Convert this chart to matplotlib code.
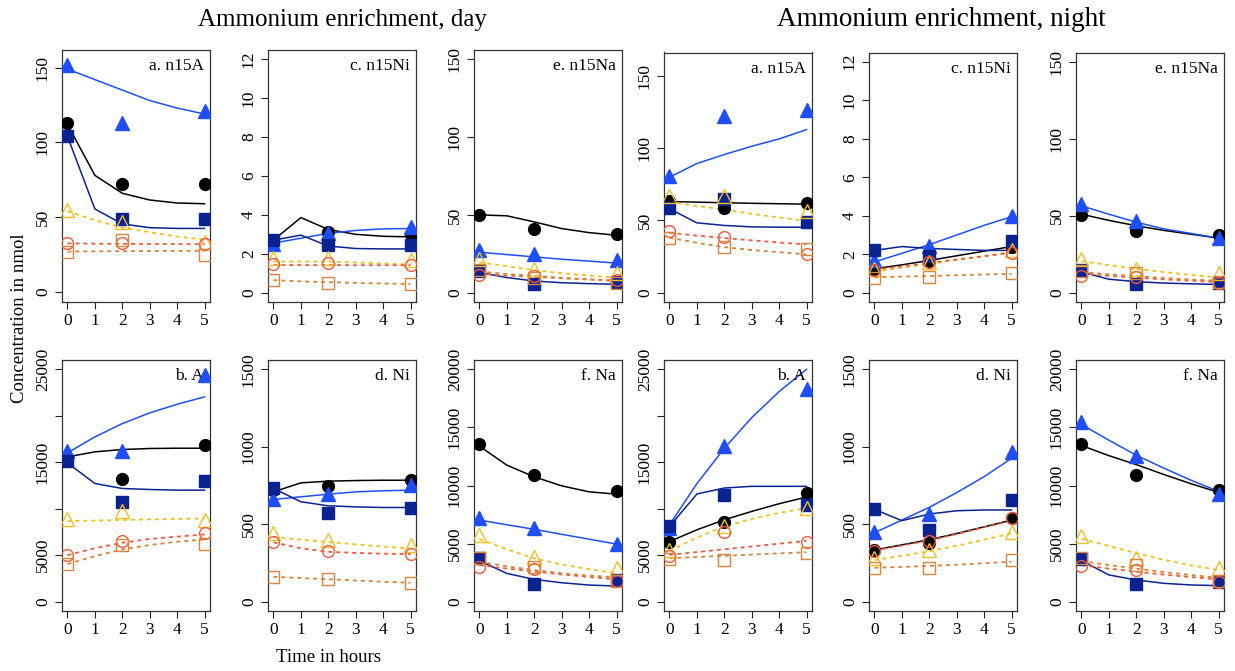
import matplotlib
matplotlib.use('Agg')
import matplotlib.pyplot as plt

plt.rcParams['font.family'] = ['Liberation Serif', 'DejaVu Serif']

# ---------------- data ----------------
hours_fit = [0, 1, 2, 3, 4, 5]
hours_obs = [0, 2, 5]
series_names = ['black', 'blue', 'navy', 'gold', 'red', 'orange']

# order of rows in every array: black, blue, navy, gold, red, orange
day_n15A_obs = [[113, 72, 72], [152, 113, 121], [104, 49, 49],
                [55, 47, 33.5], [33, 33, 32], [27, 35, 25]]
day_n15A_fit = [[112, 78, 66, 61.5, 59.5, 59], [149, 142, 135, 128, 123, 119],
                [104, 55.5, 45.5, 43, 42.5, 42.5], [54, 48, 43, 40, 37, 35],
                [32.5, 32.3, 32.2, 32.1, 32, 32], [27, 27.2, 27.3, 27.4, 27.5, 27.5]]

day_n15Ni_obs = [[2.7, 3.1, 3.0], [2.5, 3.08, 3.36], [2.7, 2.44, 2.44],
                 [1.76, 1.76, 1.67], [1.46, 1.53, 1.41], [0.64, 0.52, 0.46]]
day_n15Ni_fit = [[2.7, 3.86, 3.25, 3.0, 2.9, 2.87], [2.55, 2.8, 3.05, 3.2, 3.28, 3.3],
                 [2.7, 2.96, 2.4, 2.27, 2.25, 2.25], [1.6, 1.6, 1.6, 1.55, 1.5, 1.45],
                 [1.42, 1.42, 1.42, 1.41, 1.41, 1.41], [0.64, 0.58, 0.54, 0.5, 0.47, 0.45]]

day_n15Na_obs = [[50.2, 41.2, 37.5], [27.7, 25.1, 20.8], [14, 5.8, 6.9],
                 [21.9, 15.5, 12.7], [11.2, 10.5, 7.9], [14.4, 9.7, 6.2]]
day_n15Na_fit = [[50, 49.4, 45.5, 41.2, 38.6, 36.9], [26, 24.5, 23, 21.5, 20.3, 19],
                 [13, 9.7, 7.5, 6.4, 5.8, 5.4], [19.5, 17, 14.5, 12.5, 11, 9.7],
                 [12, 11, 10.2, 9.3, 8.5, 7.8], [13.5, 12, 10.8, 9.5, 8.5, 7.5]]

night_n15A_obs = [[63.7, 58.7, 62.1], [81, 122.4, 126.5], [58.7, 64.9, 49],
                  [66.7, 66.7, 56.4], [42.6, 38.4, 26.9], [38, 31.7, 30.4]]
night_n15A_fit = [[63, 62.6, 62.2, 61.8, 61.5, 61.2], [79.8, 89.3, 95.5, 101.2, 106.3, 112.7],
                  [58, 48.3, 46.5, 45.5, 45.3, 45.3], [62.5, 60, 57.5, 54.5, 52, 49.5],
                  [41.4, 39.5, 37.8, 36.2, 34.7, 33.4], [38, 34.5, 31.5, 29.5, 28, 26.5]]

night_n15Ni_obs = [[1.24, 1.64, 2.4], [1.69, 2.41, 4.01], [2.2, 1.89, 2.67],
                   [1.24, 1.58, 2.2], [1.2, 1.58, 2.07], [0.77, 0.81, 1.03]]
night_n15Ni_fit = [[1.25, 1.45, 1.68, 1.92, 2.16, 2.4], [1.6, 2.05, 2.5, 3.0, 3.5, 3.95],
                   [2.2, 2.4, 2.3, 2.25, 2.2, 2.2], [1.1, 1.3, 1.5, 1.7, 1.9, 2.1],
                   [1.2, 1.37, 1.55, 1.73, 1.9, 2.08], [0.8, 0.84, 0.87, 0.91, 0.95, 0.98]]

night_n15Na_obs = [[50.6, 40.2, 37.2], [57.5, 46.3, 35.5], [15, 5.4, 6.5],
                   [22, 15.5, 12.9], [11.2, 10.1, 6.5], [14, 12.9, 6.9]]
night_n15Na_fit = [[51, 47, 43.5, 40.5, 38, 35.5], [56.4, 51, 45.8, 41.5, 38.5, 35.5],
                   [13.5, 8.8, 7.2, 6.3, 5.8, 5.4], [20.5, 18, 15.5, 13.5, 11.5, 10],
                   [12.5, 11, 9.8, 8.7, 7.8, 7], [13.5, 12, 10.8, 9.6, 8.6, 7.8]]

day_A_obs = [[15300, 13250, 16900], [16225, 16225, 24355], [15115, 10745, 13000],
             [8950, 9780, 8775], [5015, 6555, 7415], [4050, 6090, 6195]]
day_A_fit = [[15580, 16120, 16370, 16480, 16510, 16510],
             [16010, 17730, 19160, 20310, 21240, 22030],
             [14935, 12715, 12180, 12070, 12000, 12000],
             [8670, 8730, 8790, 8850, 8900, 8950],
             [5015, 5750, 6340, 6750, 7000, 7235],
             [4050, 4900, 5620, 6100, 6450, 6700]]

day_Ni_obs = [[720, 746, 788], [662, 694, 752], [737, 574, 602],
              [445, 398, 365], [383, 327, 305], [161, 144, 122]]
day_Ni_fit = [[709, 767, 778, 782, 784, 784], [660, 677, 694, 709, 716, 720],
              [731, 645, 619, 612, 608, 608], [419, 400, 385, 370, 356, 344],
              [383, 345, 322, 315, 310, 307], [161, 153, 145, 137, 129, 122]]

day_Na_obs = [[13550, 10945, 9540], [7220, 6300, 4960], [3725, 1520, 1860],
              [5730, 3870, 2865], [3009, 2779, 1805], [3725, 3009, 1805]]
day_Na_fit = [[13380, 11750, 10745, 9970, 9456, 9255],
              [7020, 6620, 6230, 5800, 5380, 4960],
              [3524, 2435, 1920, 1633, 1433, 1347],
              [5390, 4500, 3725, 3200, 2800, 2435],
              [3150, 2850, 2600, 2350, 2130, 1920],
              [3440, 3050, 2720, 2450, 2250, 2090]]

night_A_obs = [[6475, 8525, 11690], [7914, 16800, 22914], [8094, 11511, 10432],
               [5576, 8094, 10072], [4928, 7446, 6475], [4568, 4496, 5216]]
night_A_fit = [[6475, 7733, 8813, 9712, 10540, 11259],
               [8270, 12700, 16500, 19800, 22600, 25000],
               [8094, 11583, 12230, 12410, 12410, 12410],
               [5470, 6900, 8100, 8900, 9550, 10070],
               [5036, 5340, 5640, 5940, 6240, 6547],
               [4676, 4810, 4940, 5070, 5200, 5324]]

night_Ni_obs = [[334, 381, 538], [452, 566, 968], [596, 463, 656],
                [280, 334, 452], [329, 392, 538], [215, 215, 269]]
night_Ni_fit = [[334, 367, 400, 440, 483, 527], [445, 527, 609, 704, 807, 925],
                [596, 523, 566, 587, 592, 592], [269, 296, 326, 361, 400, 441],
                [330, 362, 395, 436, 480, 523], [219, 224, 231, 239, 248, 258]]

night_Na_obs = [[13612, 10935, 9583], [15453, 12518, 9266], [3683, 1496, 1727],
                [5669, 3741, 2878], [3079, 2734, 1727], [3741, 3165, 1813]]
night_Na_fit = [[13440, 12570, 11800, 10950, 10150, 9410],
                [15250, 13900, 12600, 11500, 10450, 9500],
                [3540, 2302, 1871, 1583, 1439, 1381],
                [5410, 4800, 4170, 3600, 3130, 2730],
                [3150, 2850, 2580, 2330, 2120, 1920],
                [3500, 3150, 2850, 2550, 2300, 2060]]

panel_labels = ['a. n15A', 'c. n15Ni', 'e. n15Na', 'b. A', 'd. Ni', 'f. Na']
ticks_n15A = [0, 50, 100, 150]
ticks_n15Ni = [0, 2, 4, 6, 8, 10, 12]
ticks_n15Na = [0, 50, 100, 150]
ticks_A = [0, 5000, 10000, 15000, 20000, 25000]
labels_A = ['0', '5000', '', '15000', '', '25000']
ticks_Ni = [0, 500, 1000, 1500]
ticks_Na = [0, 5000, 10000, 15000, 20000]
xticks = [0, 1, 2, 3, 4, 5]

# ---------------- style ----------------
W, H = 1235, 671
fig = plt.figure(figsize=(W / 100, H / 100), dpi=100)

colors = ['#000000', '#1f4ef5', '#0b2391', '#f0c020', '#f15a3a', '#d8843c']
markers = ['o', '^', 's', '^', 'o', 's']
filled = [True, True, True, False, False, False]
msizes = [8.5, 10.5, 8, 10.5, 8.5, 8.5]
dotted = (0, (2.2, 2.2))

lefts = [62, 268, 474, 664, 869, 1076]
pw = 148


def make_ax(left, top, bottom):
    return fig.add_axes([left / W, 1 - bottom / H, pw / W, (bottom - top) / H])


def draw(ax, obs, fit, ylim, yticks, ylabels, label):
    for i in range(6):
        ls = '-' if filled[i] else dotted
        lw = 1.1 if filled[i] else 1.3
        ax.plot(hours_fit, fit[i], color=colors[i], lw=lw, linestyle=ls, zorder=2)
    for i in range(6):
        if filled[i]:
            ax.plot(hours_obs, obs[i], linestyle='none', marker=markers[i],
                    ms=msizes[i], color=colors[i], mec=colors[i], zorder=3 + i * 0.1)
        else:
            ax.plot(hours_obs, obs[i], linestyle='none', marker=markers[i],
                    ms=msizes[i], mfc='none', mec=colors[i], mew=1.0, zorder=4 + i * 0.1)
    ax.set_xlim(-0.2, 5.2)
    ax.set_ylim(*ylim)
    ax.set_xticks(xticks)
    ax.set_xticklabels([str(t) for t in xticks])
    ax.set_yticks(yticks)
    ax.set_yticklabels(ylabels if ylabels is not None else [str(t) for t in yticks])
    ax.tick_params(direction='out', length=5, width=0.8, color='#222222',
                   labelsize=12.5, pad=3)
    for lab in ax.get_yticklabels():
        lab.set_rotation(90)
        lab.set_va('center')
        lab.set_ha('right')
    for sp in ax.spines.values():
        sp.set_color('#333333')
        sp.set_linewidth(0.9)
    ax.text(0.96, 0.935, label, transform=ax.transAxes, ha='right', va='center',
            fontsize=12.5)


top_day = (50, 302)
top_night = (52.5, 302)
bot_row = (360, 611)

yl_n15A_day = (-6.7, 161.8)
yl_n15A_night = (-6.4, 166)
yl_n15Ni = (-0.48, 12.48)
yl_n15Na = (-6, 156)
yl_A = (-1000, 26000)
yl_Ni = (-60, 1560)
yl_Na = (-800, 20800)

ax = make_ax(lefts[0], *top_day)
draw(ax, day_n15A_obs, day_n15A_fit, yl_n15A_day, ticks_n15A, None, panel_labels[0])
ax = make_ax(lefts[1], *top_day)
draw(ax, day_n15Ni_obs, day_n15Ni_fit, yl_n15Ni, ticks_n15Ni, None, panel_labels[1])
ax = make_ax(lefts[2], *top_day)
draw(ax, day_n15Na_obs, day_n15Na_fit, yl_n15Na, ticks_n15Na, None, panel_labels[2])
ax = make_ax(lefts[0], *bot_row)
draw(ax, day_A_obs, day_A_fit, yl_A, ticks_A, labels_A, panel_labels[3])
ax = make_ax(lefts[1], *bot_row)
draw(ax, day_Ni_obs, day_Ni_fit, yl_Ni, ticks_Ni, None, panel_labels[4])
ax = make_ax(lefts[2], *bot_row)
draw(ax, day_Na_obs, day_Na_fit, yl_Na, ticks_Na, None, panel_labels[5])

ax = make_ax(lefts[3], *top_night)
draw(ax, night_n15A_obs, night_n15A_fit, yl_n15A_night, ticks_n15A, None, panel_labels[0])
ax = make_ax(lefts[4], *top_night)
draw(ax, night_n15Ni_obs, night_n15Ni_fit, yl_n15Ni, ticks_n15Ni, None, panel_labels[1])
ax = make_ax(lefts[5], *top_night)
draw(ax, night_n15Na_obs, night_n15Na_fit, yl_n15Na, ticks_n15Na, None, panel_labels[2])
ax = make_ax(lefts[3], *bot_row)
draw(ax, night_A_obs, night_A_fit, yl_A, ticks_A, labels_A, panel_labels[3])
ax = make_ax(lefts[4], *bot_row)
draw(ax, night_Ni_obs, night_Ni_fit, yl_Ni, ticks_Ni, None, panel_labels[4])
ax = make_ax(lefts[5], *bot_row)
draw(ax, night_Na_obs, night_Na_fit, yl_Na, ticks_Na, None, panel_labels[5])

fig.text(342 / W, 1 - 20 / H, 'Ammonium enrichment, day', ha='center', va='center', fontsize=18)
fig.text(941 / W, 1 - 20 / H, 'Ammonium enrichment, night', ha='center', va='center', fontsize=19.5)
fig.text(20 / W, 1 - 318 / H, 'Concentration in nmol', rotation=90, ha='center', va='center', fontsize=13.5)
fig.text(329 / W, 1 - 657 / H, 'Time in hours', ha='center', va='center', fontsize=13.5)

fig.savefig('out.png', dpi=100)
